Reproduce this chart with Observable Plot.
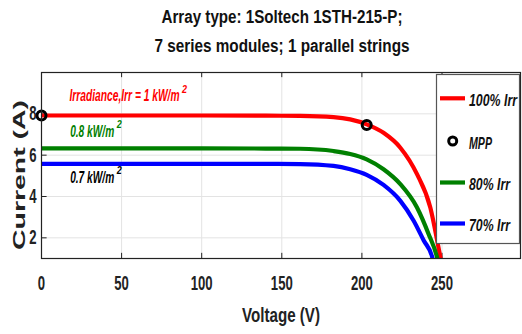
<!DOCTYPE html>
<html><head><meta charset="utf-8">
<script src="https://cdn.jsdelivr.net/npm/d3@7"></script>
<script src="https://cdn.jsdelivr.net/npm/@observablehq/plot@0.6"></script>
<style>
body{margin:0;background:#fff;}
#chart{position:relative;width:522px;height:334px;}
</style></head>
<body><div id="chart"></div>
<script>
const titleLines = ["Array type: 1Soltech 1STH-215-P;", "7 series modules; 1 parallel strings"];
const xLabel = "Voltage (V)";
const yLabel = "Current (A)";
const xTicks = [0, 50, 100, 150, 200, 250];
const yTicks = [2, 4, 6, 8];

const voltage100 = [0, 50, 100, 140, 161.4, 182.3, 192.7, 203, 213.5, 224, 234.4, 242.7, 249, 251];
const current100 = [7.92, 7.92, 7.92, 7.91, 7.90, 7.84, 7.73, 7.49, 7.08, 6.36, 5.08, 3.47, 1.06, 0.3];
const voltage80 = [0, 50, 100, 140, 161.4, 182.3, 192.7, 203, 213.5, 224, 234.4, 241.6, 246.9, 249];
const current80 = [6.33, 6.33, 6.33, 6.32, 6.31, 6.20, 6.06, 5.80, 5.32, 4.60, 3.47, 2.19, 1.06, 0.3];
const voltage70 = [0, 50, 100, 140, 161.4, 182.3, 192.7, 203, 213.5, 224, 232.3, 238.6, 243.9, 246];
const current70 = [5.58, 5.58, 5.58, 5.58, 5.57, 5.48, 5.32, 5.05, 4.56, 3.79, 2.83, 1.87, 1.06, 0.3];
const mppV = [0, 203];
const mppI = [7.92, 7.46];

const seriesNames = ["100% Irr", "80% Irr", "70% Irr"];
const seriesColors = ["#ff0000", "#008000", "#0000ff"];
const annotTexts = ["Irradiance,Irr = 1 kW/m", "0.8 kW/m", "0.7 kW/m"];
const annotV = [17.8, 18.2, 18.2];
const annotI = [8.58, 6.87, 4.63];
const annotColors = ["#ff0000", "#008000", "#000000"];

const toRows = (vs, is) => vs.map((v, i) => ({v, i: is[i]}));
const series = [toRows(voltage100, current100), toRows(voltage80, current80), toRows(voltage70, current70)];
const mpp = toRows(mppV, mppI);

const font = '"Liberation Sans",Arial,sans-serif';

const plot = Plot.plot({
  width: 522, height: 334,
  marginLeft: 41, marginRight: 2, marginTop: 72, marginBottom: 76,
  x: {domain: [0, 299], label: null},
  y: {domain: [1, 10], label: null},
  style: {fontFamily: font, background: "#fff"},
  marks: [
    Plot.ruleX(xTicks.slice(1), {x: d => d, stroke: "#e3e3e3", strokeWidth: 1}),
    Plot.ruleY(yTicks, {y: d => d, stroke: "#e3e3e3", strokeWidth: 1}),
    Plot.ruleX(xTicks, {x: d => d, y1: 1, y2: 1.25, stroke: "#222"}),
    Plot.ruleX(xTicks, {x: d => d, y1: 10, y2: 9.75, stroke: "#222"}),
    Plot.ruleY(yTicks, {y: d => d, x1: 0, x2: 3.5, stroke: "#222"}),
    ...series.map((s, k) => Plot.line(s, {x: "v", y: "i", stroke: seriesColors[k], strokeWidth: 4.2, curve: "monotone-x", clip: true})),
    Plot.dot(mpp, {x: "v", y: "i", r: 4.5, stroke: "#000", strokeWidth: 3, fill: "none"}),
    Plot.axisX({ticks: xTicks, tickSize: 0, tickPadding: 17, fontSize: 20, fontWeight: "bold", fill: "#222", label: null}),
    Plot.axisY({ticks: yTicks, tickSize: 0, tickPadding: 5, fontSize: 20, fontWeight: "bold", fill: "#222", label: null}),
    Plot.frame({stroke: "#222", strokeWidth: 1.2})
  ]
});
document.getElementById("chart").appendChild(plot);

const svg = d3.select(plot);
const xs = plot.scale("x"), ys = plot.scale("y");

// compress tick labels horizontally (narrow font look)
svg.selectAll('g[aria-label="x-axis tick label"] text, g[aria-label="y-axis tick label"] text').each(function() {
  const n = this.textContent.length;
  this.setAttribute("textLength", n * 7.3);
  this.setAttribute("lengthAdjust", "spacingAndGlyphs");
});

function addText(opts) {
  const t = svg.append("text").attr("x", opts.x).attr("y", opts.y)
    .attr("text-anchor", opts.anchor || "start")
    .attr("font-size", opts.size).attr("font-weight", "bold")
    .attr("font-style", opts.italic ? "italic" : "normal")
    .attr("fill", opts.fill || "#111").attr("font-family", font).text(opts.text);
  if (opts.transform) t.attr("transform", opts.transform);
  if (opts.width) t.attr("textLength", opts.width).attr("lengthAdjust", "spacingAndGlyphs");
  return t;
}

// annotations
const annotWidths = [110, 44, 44];
annotTexts.forEach((t, k) => {
  const x0 = xs.apply(annotV[k]), y0 = ys.apply(annotI[k]);
  addText({x: x0, y: y0, text: t, size: 16, italic: true, fill: annotColors[k], width: annotWidths[k]});
  addText({x: x0 + annotWidths[k] + 2.5, y: y0 - 8.5, text: "2", size: 11, italic: true, fill: annotColors[k], width: 5});
});

// title
addText({x: 282, y: 23, text: titleLines[0], size: 17.5, anchor: "middle", width: 241});
addText({x: 282, y: 52, text: titleLines[1], size: 17.5, anchor: "middle", width: 255});
// axis labels
addText({x: 281, y: 322, text: xLabel, size: 20, anchor: "middle", width: 78, fill: "#222"});
addText({x: 0, y: 0, text: yLabel, size: 16, anchor: "middle", width: 150, fill: "#222",
  transform: "translate(25,175) rotate(-90)"});

// legend
const lg = svg.append("g");
lg.append("rect").attr("x", 436.5).attr("y", 74.5).attr("width", 83).attr("height", 169)
  .attr("fill", "#fff").attr("stroke", "#555").attr("stroke-width", 1.2);
const legendItems = [
  {type: "line", color: seriesColors[0], label: seriesNames[0], y: 98.3, w: 48},
  {type: "dot", color: "#000", label: "MPP", y: 141, w: 23},
  {type: "line", color: seriesColors[1], label: seriesNames[1], y: 182.5, w: 41},
  {type: "line", color: seriesColors[2], label: seriesNames[2], y: 223.5, w: 41}
];
legendItems.forEach(d => {
  if (d.type === "line") lg.append("line").attr("x1", 440).attr("x2", 465).attr("y1", d.y).attr("y2", d.y)
    .attr("stroke", d.color).attr("stroke-width", 4.2);
  else lg.append("circle").attr("cx", 452.7).attr("cy", d.y).attr("r", 4).attr("fill", "none")
    .attr("stroke", "#000").attr("stroke-width", 3);
  addText({x: 469, y: d.y + 7.5, text: d.label, size: 17, italic: true, width: d.w});
});
</script></body></html>
